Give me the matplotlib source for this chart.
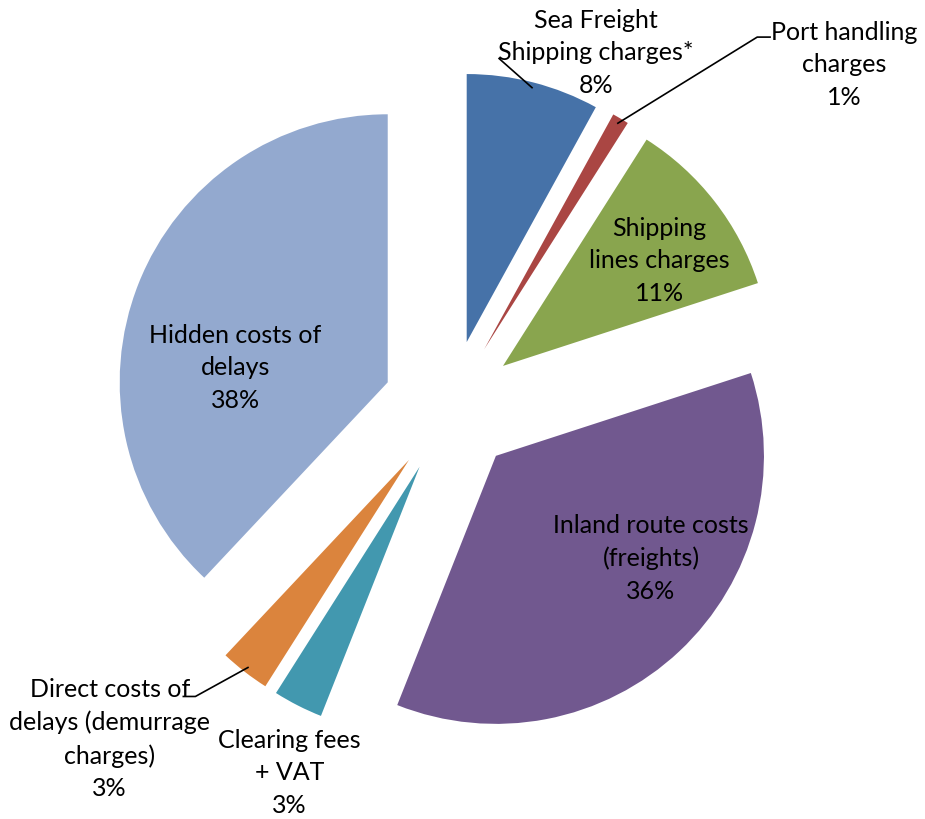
import numpy as np
import matplotlib
matplotlib.use("Agg")
import matplotlib.pyplot as plt

# Cost breakdown of the import corridor (% of total)
categories = [
    "Sea Freight\nShipping charges*",
    "Port handling\ncharges",
    "Shipping\nlines charges",
    "Inland route costs\n(freights)",
    "Clearing fees\n+ VAT",
    "Direct costs of\ndelays (demurrage\ncharges)",
    "Hidden costs of\ndelays",
]
shares = [8, 1, 11, 36, 3, 3, 38]
colors = ["#4672A8", "#AA4643", "#89A54E", "#71588F", "#4298AF", "#DB843D", "#93A9CF"]

# label anchor positions (axes data units, pie radius = 1)
label_pos = [
    (0.545, 1.326),
    (1.47, 1.28),
    (0.78, 0.55),
    (0.75, -0.56),
    (-0.60, -1.36),
    (-1.27, -1.235),
    (-0.80, 0.15),
]
# labels that sit outside their slice and get a leader line
leader = {
    0: (0.183, 1.30),
    1: (1.146, 1.38),
    5: (-0.95, -1.08),
}

explode = 0.25
fig = plt.figure(figsize=(9.25, 8.2), dpi=100)
ax = fig.add_axes([0, 0, 1, 1])
wedges, _ = ax.pie(shares, colors=colors, startangle=90, counterclock=False,
                   explode=[explode] * len(shares), radius=1.0,
                   wedgeprops=dict(linewidth=0))
ax.set_xlim(-1.679, 1.772)
ax.set_ylim(-1.537, 1.522)
ax.set_aspect("equal")
ax.axis("off")

font = dict(family=["Lato", "DejaVu Sans"], fontsize=18, color="black",
            ha="center", va="center", linespacing=1.5)

for i, (name, val) in enumerate(zip(categories, shares)):
    x, y = label_pos[i]
    ax.text(x, y, f"{name}\n{val}%", **font)
    if i in leader:
        w = wedges[i]
        mid = np.deg2rad((w.theta1 + w.theta2) / 2)
        cx, cy = w.center
        px, py = cx + 0.98 * np.cos(mid), cy + 0.98 * np.sin(mid)
        lx, ly = leader[i]
        if i == 0:
            ax.plot([lx, px], [ly, py], color="black", lw=1.2)
        elif i == 1:
            ax.plot([lx + 0.048, lx, px], [ly, ly, py], color="black", lw=1.2)
        else:
            ax.plot([lx - 0.045, lx, px], [ly, ly, py], color="black", lw=1.2)

fig.savefig("out.png", dpi=100, facecolor="white")
